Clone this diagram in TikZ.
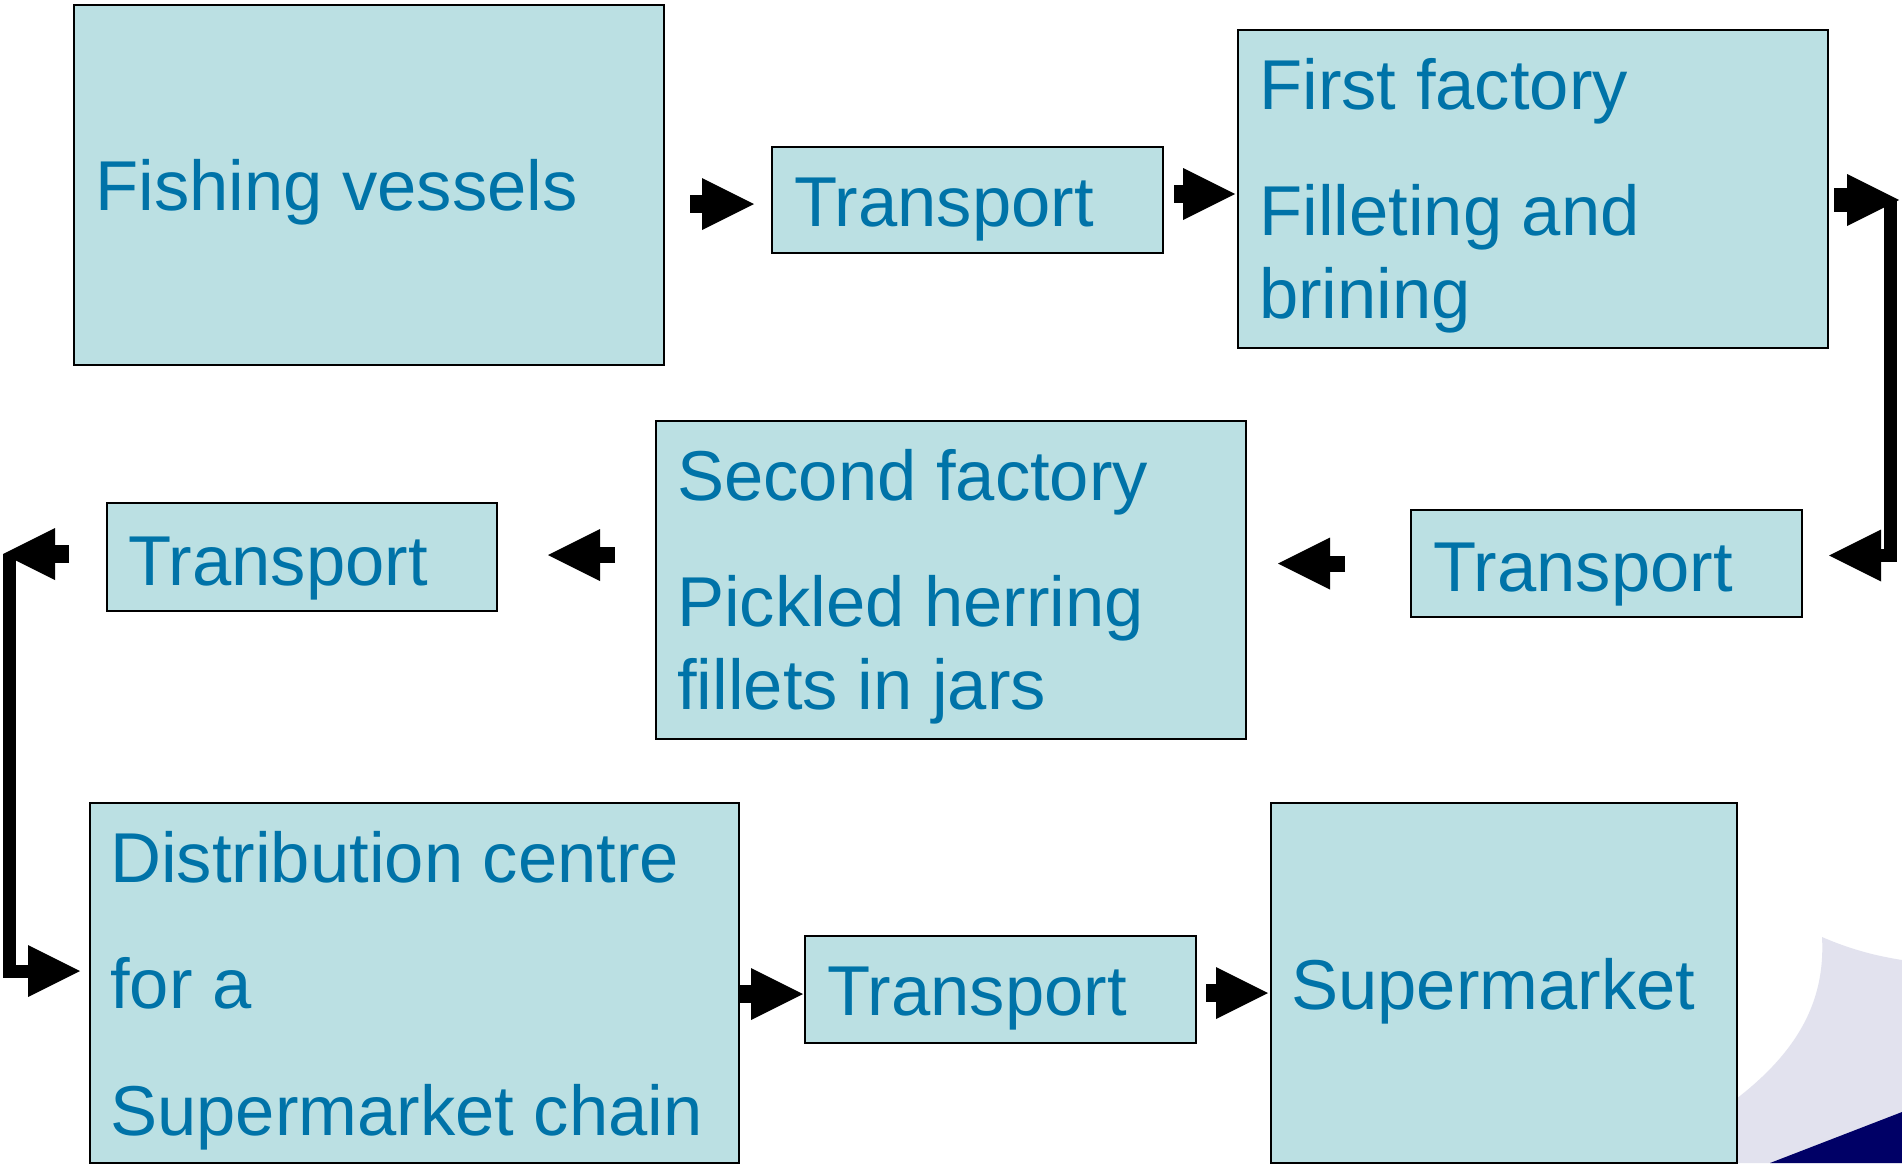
\documentclass[tikz,border=0pt]{standalone}
\usepackage{fontspec}
\setmainfont{Liberation Sans}
\usetikzlibrary{calc,arrows.meta}
\definecolor{boxfill}{HTML}{BBE0E3}
\definecolor{boxtext}{HTML}{0073A8}
\definecolor{lavender}{HTML}{E2E2EE}
\definecolor{navy}{HTML}{000066}
\begin{document}
\begin{tikzpicture}[x=1pt,y=-1pt,
  box/.style={draw=black,line width=2pt,fill=boxfill,rectangle,inner sep=0pt,anchor=north west},
  txt/.style={anchor=base west,inner sep=0pt,text=boxtext,font=\fontsize{70.6}{84}\selectfont},
  blk/.style={line width=18pt,-{Triangle[length=52pt,width=52pt,line width=0pt]}},
  elbow/.style={line width=13pt,line join=miter,-{Triangle[length=52pt,width=52pt,line width=0pt]}}]
\useasboundingbox (0,0) rectangle (1902,1163);
\fill[white] (0,0) rectangle (1902,1163);
% corner decoration
\fill[lavender] (1822,937) .. controls (1826,1010) and (1790,1070) .. (1690,1130)
  -- (1690,1163) -- (1902,1163) -- (1902,960) .. controls (1870,955) and (1845,947) .. (1822,937);
\fill[navy] (1770,1163) -- (1902,1112) -- (1902,1163) -- cycle;
% process boxes
\node[box,minimum width=590pt,minimum height=360pt] (fish) at (73,4) {};
\node[box,minimum width=391pt,minimum height=106pt] (tr1) at (771,146) {};
\node[box,minimum width=590pt,minimum height=318pt] (ff) at (1237,29) {};
\node[box,minimum width=391pt,minimum height=107pt] (tr2) at (1410,509) {};
\node[box,minimum width=590pt,minimum height=318pt] (sf) at (655,420) {};
\node[box,minimum width=390pt,minimum height=108pt] (tr3) at (106,502) {};
\node[box,minimum width=649pt,minimum height=360pt] (dc) at (89,802) {};
\node[box,minimum width=391pt,minimum height=107pt] (tr4) at (804,935) {};
\node[box,minimum width=466pt,minimum height=360pt] (sm) at (1270,802) {};
% labels
\node[txt] (l1) at (95,210) {Fishing vessels};
\node[txt] (l2) at (794,226) {Transport};
\node[txt] (l3a) at (1259,109) {First factory};
\node[txt] (l3b) at (1259,235) {Filleting and};
\node[txt] (l3c) at (1259,318) {brining};
\node[txt] (l4) at (1433,591) {Transport};
\node[txt] (l5a) at (677,500) {Second factory};
\node[txt] (l5b) at (677,626) {Pickled herring};
\node[txt] (l5c) at (677,709) {fillets in jars};
\node[txt] (l6) at (128,585) {Transport};
\node[txt] (l7a) at (110,882) {Distribution centre};
\node[txt] (l7b) at (110,1008) {for a};
\node[txt] (l7c) at (110,1135) {Supermarket chain};
\node[txt] (l8) at (827,1015) {Transport};
\node[txt] (l9) at (1291,1009) {Supermarket};
% connectors
\draw[blk] ($(fish.east)+(25,19)$) -- ($(tr1.west)+(-17,4)$);
\draw[blk] ($(tr1.east)+(10,-6)$) -- ($(ff.west)+(-2,5)$);
\draw[blk,line width=24pt] ($(ff.east)+(5,11)$) -- ($(ff.east)+(70,11)$);
\draw[elbow] ($(ff.east)+(61.5,11)$) |- ($(tr2.east)+(26,-8)$);
\draw[blk,line width=16pt] ($(tr2.west)+(-65,0)$) -- ($(tr2.west)+(-132,0)$);
\draw[blk,line width=16pt] ($(tr3.east)+(117,-2)$) -- ($(tr3.east)+(50,-2)$);
\draw[blk] ($(tr3.west)+(-37,-3)$) -- ($(tr3.west)+(-103,-3)$);
\draw[elbow] ($(tr3.west)+(-97,-3)$) |- ($(dc.west)+(-9,-12)$);
\draw[blk] ($(dc.east)+(-1,11)$) -- ($(tr4.west)+(-1,4.5)$);
\draw[blk] ($(tr4.east)+(9,3.5)$) -- ($(sm.west)+(-2,10)$);
\end{tikzpicture}
\end{document}
